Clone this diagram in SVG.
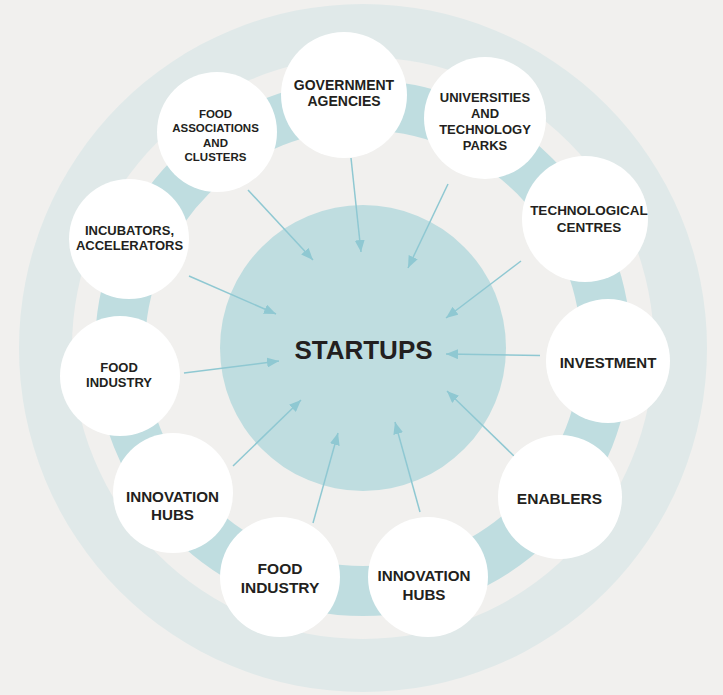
<svg xmlns="http://www.w3.org/2000/svg" width="723" height="695" viewBox="0 0 723 695">
<style>
.node circle{fill:#ffffff}
.t{font-family:"Liberation Sans",Arial,Helvetica,sans-serif;font-weight:bold;fill:#231f20;text-anchor:middle}
.c line{stroke:#8fc8d2;stroke-width:1.5;fill:none}
</style>
<defs>
<marker id="ah" markerUnits="userSpaceOnUse" viewBox="0 0 12 10" markerWidth="12" markerHeight="10" refX="12" refY="5" orient="auto">
<path d="M0,0 L12,5 L0,10 z" fill="#8fc8d2"/>
</marker>
</defs>
<rect width="723" height="695" fill="#f1f0ee"/>
<g id="rings">
<circle cx="363" cy="348" r="344" fill="#e0e9e9"/>
<circle cx="363" cy="348" r="291" fill="#f1f0ee"/>
<circle cx="363" cy="348" r="243" fill="none" stroke="#bfdde0" stroke-width="50"/>
</g>
<g id="startups">
<circle cx="363" cy="348" r="143" fill="#bfdde0"/>
<text class="t" x="363.5" y="359" font-size="26">STARTUPS</text>
</g>
<g id="connectors" class="c">
<line x1="248" y1="190" x2="313" y2="260" marker-end="url(#ah)"/>
<line x1="351" y1="158" x2="361" y2="252" marker-end="url(#ah)"/>
<line x1="448" y1="184" x2="408" y2="268" marker-end="url(#ah)"/>
<line x1="521" y1="261" x2="446" y2="318" marker-end="url(#ah)"/>
<line x1="540" y1="355.5" x2="446" y2="354" marker-end="url(#ah)"/>
<line x1="514" y1="456" x2="447" y2="391" marker-end="url(#ah)"/>
<line x1="420" y1="512" x2="395" y2="422" marker-end="url(#ah)"/>
<line x1="313" y1="523" x2="338" y2="433" marker-end="url(#ah)"/>
<line x1="233" y1="466" x2="301" y2="400" marker-end="url(#ah)"/>
<line x1="184" y1="373" x2="279" y2="361" marker-end="url(#ah)"/>
<line x1="189" y1="276" x2="276" y2="314" marker-end="url(#ah)"/>
</g>
<g id="n-gov" class="node">
<circle cx="344" cy="95" r="63"/>
<text class="t" font-size="14" x="344" y="90">GOVERNMENT</text>
<text class="t" font-size="14" x="344" y="106">AGENCIES</text>
</g>
<g id="n-univ" class="node">
<circle cx="485" cy="118" r="61"/>
<text class="t" font-size="13" x="485" y="101.5">UNIVERSITIES</text>
<text class="t" font-size="13" x="485" y="117.5">AND</text>
<text class="t" font-size="13" x="485" y="133.5">TECHNOLOGY</text>
<text class="t" font-size="13" x="485" y="149.5">PARKS</text>
</g>
<g id="n-assoc" class="node">
<circle cx="217" cy="132" r="60"/>
<text class="t" font-size="11.5" x="215.5" y="117.5">FOOD</text>
<text class="t" font-size="11.5" x="215.5" y="132">ASSOCIATIONS</text>
<text class="t" font-size="11.5" x="215.5" y="146.5">AND</text>
<text class="t" font-size="11.5" x="215.5" y="160.5">CLUSTERS</text>
</g>
<g id="n-incub" class="node">
<circle cx="129" cy="239" r="60"/>
<text class="t" font-size="13" x="129.5" y="235">INCUBATORS,</text>
<text class="t" font-size="13" x="129.5" y="250">ACCELERATORS</text>
</g>
<g id="n-food1" class="node">
<circle cx="120" cy="376" r="60"/>
<text class="t" font-size="13" x="119" y="371.5">FOOD</text>
<text class="t" font-size="13" x="119" y="386.5">INDUSTRY</text>
</g>
<g id="n-tech" class="node">
<circle cx="585" cy="219" r="63"/>
<text class="t" font-size="13.5" x="589" y="215">TECHNOLOGICAL</text>
<text class="t" font-size="13.5" x="589" y="231.5">CENTRES</text>
</g>
<g id="n-invest" class="node">
<circle cx="608" cy="361" r="62"/>
<text class="t" font-size="15" x="608" y="368">INVESTMENT</text>
</g>
<g id="n-hubs1" class="node">
<circle cx="173" cy="493" r="60"/>
<text class="t" font-size="15.2" x="172.5" y="501.5">INNOVATION</text>
<text class="t" font-size="15.2" x="172.5" y="520">HUBS</text>
</g>
<g id="n-food2" class="node">
<circle cx="280" cy="577" r="60"/>
<text class="t" font-size="15.5" x="280" y="574">FOOD</text>
<text class="t" font-size="15.5" x="280" y="592.5">INDUSTRY</text>
</g>
<g id="n-hubs2" class="node">
<circle cx="428" cy="577" r="60"/>
<text class="t" font-size="15.2" x="424" y="581">INNOVATION</text>
<text class="t" font-size="15.2" x="424" y="600">HUBS</text>
</g>
<g id="n-enab" class="node">
<circle cx="560" cy="497" r="62"/>
<text class="t" font-size="15.5" x="559.5" y="504">ENABLERS</text>
</g>
</svg>
